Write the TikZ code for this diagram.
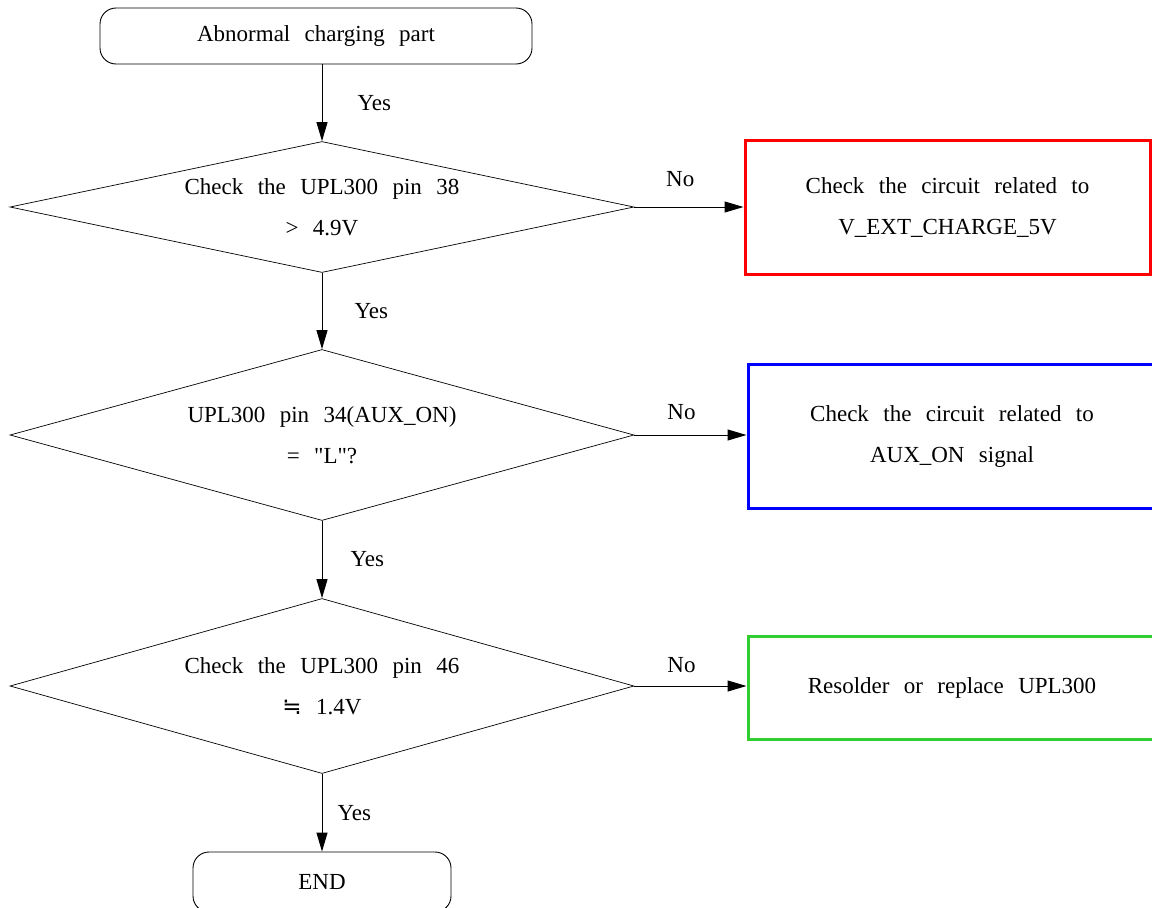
\documentclass[tikz,border=0pt]{standalone}
\usepackage{fontspec}
\setmainfont[WordSpace=2.5]{Liberation Serif}
\newfontfamily\symfont{DejaVu Sans}
\usetikzlibrary{shapes.geometric,arrows.meta}
\definecolor{boxred}{RGB}{255,0,0}
\definecolor{boxblue}{RGB}{0,0,255}
\definecolor{boxgreen}{RGB}{50,205,50}

\begin{document}
\begin{tikzpicture}[x=1pt,y=-1pt,font=\fontsize{23}{41}\selectfont]

        \useasboundingbox (0,0) rectangle (1152,908);
        \clip (0,0) rectangle (1152,908);

        \begin{scope}[every node/.style={draw,rounded corners=16,line width=0.9pt,minimum height=56,inner sep=0}]
          \node[minimum width=432] (start) at (316,36)  {Abnormal charging part};
          \node[minimum width=258,minimum height=60] (end) at (322,882) {END};
        \end{scope}

        \begin{scope}[every node/.style={diamond,draw,line width=0.7pt,inner sep=0,align=center,minimum width=624}]
          \node[shape aspect=4.76,minimum height=131] (d1) at (322,207) {Check the UPL300 pin 38\\ > 4.9V};
          \node[shape aspect=3.65,minimum height=171] (d2) at (322,435) {UPL300 pin 34(AUX\_ON)\\ = \textquotedbl L\textquotedbl ?};
          \node[shape aspect=3.57,minimum height=175] (d3) at (322,686) {Check the UPL300 pin 46\\ {\symfont ≒} 1.4V};
        \end{scope}

        \begin{scope}[every node/.style={draw,line width=3pt,inner sep=0,align=center}]
          \node[draw=boxred,minimum width=405,minimum height=134] (r1) at (947.5,207) {Check the circuit related to\\ V\_EXT\_CHARGE\_5V};
          \node[draw=boxblue,minimum width=408,minimum height=144] (r2) at (952,436) {Check the circuit related to\\ AUX\_ON signal};
          \node[draw=boxgreen,minimum width=408,minimum height=103] (r3) at (952,687.5) {Resolder or replace UPL300};
        \end{scope}

        \begin{scope}[every node/.style={inner sep=0}]
          \begin{scope}[every edge/.style={draw,line width=1pt,-{Triangle[length=19pt,width=11pt]}}]
            \path (start.south -| d1.north) edge node[anchor=west,xshift=35] {Yes} (d1.north);
            \path (d1.south) edge node[anchor=west,xshift=32] {Yes} (d2.north);
            \path (d2.south) edge node[anchor=west,xshift=28] {Yes} (d3.north);
            \path (d3.south) edge node[anchor=west,xshift=15] {Yes} (end.north);
            \path (d1.east) edge node[pos=0.42,anchor=south,yshift=20] {No} (r1.west);
            \path (d2.east) edge node[pos=0.42,anchor=south,yshift=15] {No} (d2.east -| r2.west);
            \path (d3.east) edge node[pos=0.42,anchor=south,yshift=13] {No} (d3.east -| r3.west);
          \end{scope}
        \end{scope}

      \end{tikzpicture}
\end{document}
